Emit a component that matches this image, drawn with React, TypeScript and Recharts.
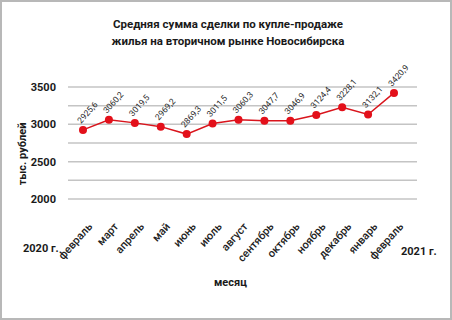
import React from 'react';
import { LineChart, Line, XAxis, YAxis, CartesianGrid, LabelList } from 'recharts';

const months = ['февраль', 'март', 'апрель', 'май', 'июнь', 'июль', 'август', 'сентябрь', 'октябрь', 'ноябрь', 'декабрь', 'январь', 'февраль'];
const avgDeal = [2925.6, 3060.2, 3019.5, 2969.2, 2869.3, 3011.5, 3060.3, 3047.7, 3046.9, 3124.4, 3228.1, 3132.1, 3420.9];
const yTicks = [2000, 2250, 2500, 2750, 3000, 3250, 3500];
const yLabelled = [2000, 2500, 3000, 3500];

const FONT = 'Roboto, "Open Sans", sans-serif';

const data = months.map((m, i) => ({ idx: i, month: m, value: avgDeal[i] }));

const MonthTick = (props: any) => {
  const { x, y, payload } = props;
  const ax = x + 10;
  const ay = y + 20;
  return (
    <text
      transform={`translate(${ax} ${ay}) rotate(-48)`}
      textAnchor="end"
      fontSize={11}
      fontWeight={500}
      fill="#222"
      fontFamily={FONT}
    >
      {months[payload.value]}
    </text>
  );
};

const ValueLabel = (props: any) => {
  const { x, y, value } = props;
  return (
    <text
      transform={`translate(${x - 2} ${y - 6}) rotate(-48)`}
      textAnchor="start"
      fontSize={8.5}
      fill="#2a2a2a"
      fontFamily={FONT}
    >
      {String(value).replace('.', ',')}
    </text>
  );
};

const textStyle: React.CSSProperties = {
  position: 'absolute',
  fontFamily: FONT,
  fontWeight: 700,
  color: '#1a1a1a',
  whiteSpace: 'nowrap',
};

export default function App() {
  return (
    <div
      style={{
        position: 'absolute',
        left: 0,
        top: 0,
        width: 452,
        height: 320,
        boxSizing: 'border-box',
        border: '2px solid #b8b8b8',
        background: '#fff',
        overflow: 'hidden',
      }}
    >
      <div style={{ ...textStyle, left: 0, width: 452, top: 14, textAlign: 'center', fontSize: 11.5, lineHeight: '17px' }}>
        Средняя сумма сделки по купле-продаже
        <br />
        жилья на вторичном рынке Новосибирска
      </div>
      <div style={{ position: 'absolute', left: -2, top: -2 }}>
        <LineChart width={452} height={320} data={data} margin={{ top: 87, right: 35, left: 0, bottom: 0 }}>
          <CartesianGrid vertical={false} stroke="#c4c4c4" strokeWidth={1.5} />
          <XAxis
            dataKey="idx"
            type="category"
            height={121}
            axisLine={false}
            tickLine={false}
            interval={0}
            padding={{ left: 15, right: 23 }}
            tick={<MonthTick />}
          />
          <YAxis
            type="number"
            domain={[2000, 3500]}
            ticks={yTicks}
            width={68}
            axisLine={false}
            tickLine={false}
            tickMargin={6}
            tickFormatter={(v: number) => (yLabelled.includes(v) ? String(v) : '')}
            tick={{ fontSize: 11, fontWeight: 700, fill: '#1a1a1a', fontFamily: FONT }}
          />
          <Line
            dataKey="value"
            type="linear"
            stroke="#d9141c"
            strokeWidth={1.5}
            dot={{ r: 4, fill: '#e3101a', stroke: '#e3101a', strokeWidth: 0 }}
            activeDot={false}
            isAnimationActive={false}
          >
            <LabelList dataKey="value" content={<ValueLabel />} />
          </Line>
        </LineChart>
      </div>
      <div
        style={{
          ...textStyle,
          fontSize: 11,
          left: 20,
          top: 152,
          transform: 'translate(-50%, -50%) rotate(-90deg)',
        }}
      >
        тыс. рублей
      </div>
      <div style={{ ...textStyle, fontSize: 11, left: 21, top: 240 }}>2020 г.</div>
      <div style={{ ...textStyle, fontSize: 11, left: 399, top: 243 }}>2021 г.</div>
      <div style={{ ...textStyle, fontSize: 11, left: 212, top: 274 }}>месяц</div>
    </div>
  );
}
